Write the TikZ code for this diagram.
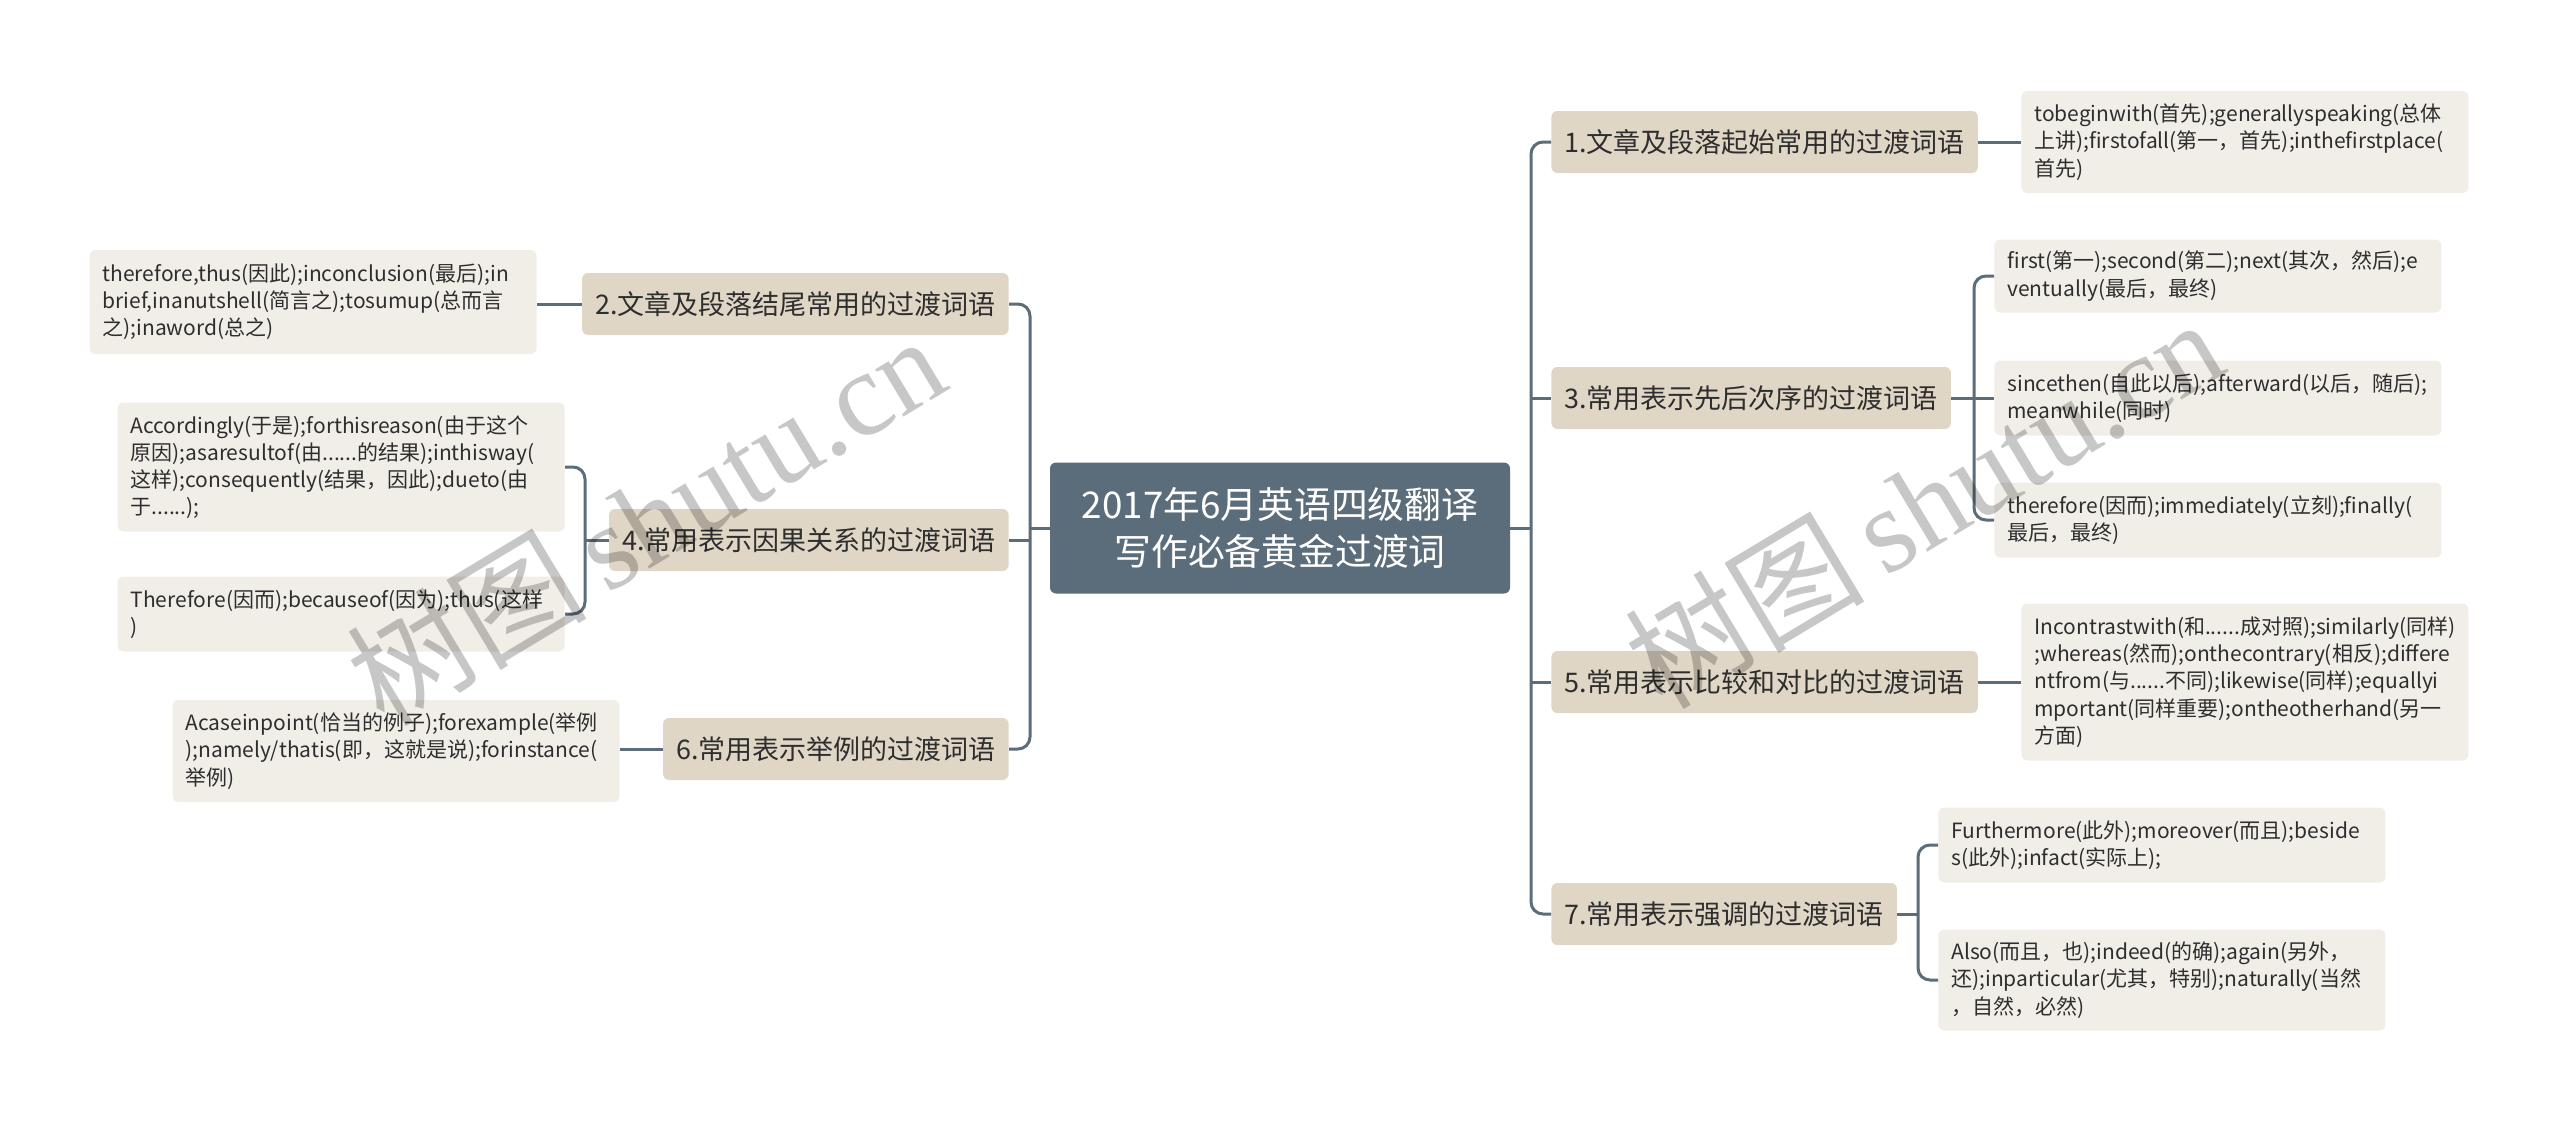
\documentclass[tikz,border=0pt]{standalone}
\usepackage{fontspec}
\setmainfont{Noto Sans CJK SC}
\newfontfamily\wmserif{Liberation Serif}
\newfontfamily\wmcjk{Noto Sans CJK SC}
\definecolor{rootfill}{HTML}{5B6D7A}
\definecolor{lvfill}{HTML}{E0D6C6}
\definecolor{leaffill}{HTML}{F1EEE7}
\definecolor{conncol}{HTML}{5B6D7A}
\definecolor{txt}{HTML}{2E2E2E}
\begin{document}
\begin{tikzpicture}[x=0.5pt,y=-0.5pt,
  root/.style={fill=rootfill, rounded corners=3pt, text=white,
    font=\fontsize{18.4}{23.5}\selectfont, align=center,
    minimum width=230pt, minimum height=65.5pt, inner sep=0pt},
  lvl/.style={fill=lvfill, rounded corners=3pt, text=txt,
    font=\fontsize{13.5}{16}\selectfont, minimum height=31pt,
    inner xsep=6.5pt, inner ysep=0pt},
  leaf/.style={fill=leaffill, rounded corners=3pt, text=txt,
    font=\fontsize{10.5}{13.6}\selectfont, align=left,
    text width=210.5pt, inner xsep=6.5pt, inner ysep=0pt},
  conn/.style={draw=conncol, line width=1.5pt},
  curvedconn/.style={conn, rounded corners=6pt},
  wm/.style={text=black, text opacity=0.22, inner sep=0pt}]
\useasboundingbox (0,0) rectangle (2560,1124);

% root
\node[root] (root) at (1280,528) {2017年6月英语四级翻译\\写作必备黄金过渡词};

% level 1 right
\node[lvl, anchor=west] (n1) at (1551,142) {1.文章及段落起始常用的过渡词语};
\node[lvl, anchor=west] (n3) at (1551,398) {3.常用表示先后次序的过渡词语};
\node[lvl, anchor=west] (n5) at (1551,682) {5.常用表示比较和对比的过渡词语};
\node[lvl, anchor=west] (n7) at (1551,914) {7.常用表示强调的过渡词语};
% level 1 left
\node[lvl, anchor=east] (n2) at (1009,304) {2.文章及段落结尾常用的过渡词语};
\node[lvl, anchor=east] (n4) at (1009,540) {4.常用表示因果关系的过渡词语};
\node[lvl, anchor=east] (n6) at (1009,749) {6.常用表示举例的过渡词语};

% leaves right
\node[leaf, anchor=west, minimum height=51pt] (l1) at (2021,142)
  {tobeginwith(首先);generallyspeaking(总体\\上讲);firstofall(第一，首先);inthefirstplace(\\首先)};
\node[leaf, anchor=west, minimum height=36.5pt] (l3a) at (1994,276)
  {first(第一);second(第二);next(其次，然后);e\\ventually(最后，最终)};
\node[leaf, anchor=west, minimum height=37.5pt] (l3b) at (1994,398)
  {sincethen(自此以后);afterward(以后，随后);\\meanwhile(同时)};
\node[leaf, anchor=west, minimum height=37.5pt] (l3c) at (1994,520)
  {therefore(因而);immediately(立刻);finally(\\最后，最终)};
\node[leaf, anchor=west, minimum height=78.5pt] (l5) at (2021,682)
  {Incontrastwith(和......成对照);similarly(同样)\\;whereas(然而);onthecontrary(相反);differe\\ntfrom(与......不同);likewise(同样);equallyi\\mportant(同样重要);ontheotherhand(另一\\方面)};
\node[leaf, anchor=west, minimum height=37.5pt] (l7a) at (1938,845)
  {Furthermore(此外);moreover(而且);beside\\s(此外);infact(实际上);};
\node[leaf, anchor=west, minimum height=50.5pt] (l7b) at (1938,980)
  {Also(而且，也);indeed(的确);again(另外，\\还);inparticular(尤其，特别);naturally(当然\\，自然，必然)};
% leaves left
\node[leaf, anchor=east, minimum height=52pt] (l2) at (537,302)
  {therefore,thus(因此);inconclusion(最后);in\\brief,inanutshell(简言之);tosumup(总而言\\之);inaword(总之)};
\node[leaf, anchor=east, minimum height=64.5pt] (l4a) at (565,467)
  {Accordingly(于是);forthisreason(由于这个\\原因);asaresultof(由......的结果);inthisway(\\这样);consequently(结果，因此);dueto(由\\于......);};
\node[leaf, anchor=east, minimum height=37.5pt] (l4b) at (565,614)
  {Therefore(因而);becauseof(因为);thus(这样\\)};
\node[leaf, anchor=east, minimum height=51pt] (l6) at (620,751)
  {Acaseinpoint(恰当的例子);forexample(举例\\);namely/thatis(即，这就是说);forinstance(\\举例)};

% trunk coordinates
\coordinate (rt) at (1531,528);
\coordinate (lt) at (1030,528);
\coordinate (t3) at (1974,398);
\coordinate (t7) at (1918,914);
\coordinate (t4) at (585,540);

% root to right
\draw[conn] (root.east) -- (rt);
\draw[curvedconn] (n1.west) -| (rt);
\draw[curvedconn] (n7.west) -| (rt);
\draw[conn] (n3.west) -- (n3.west -| rt);
\draw[conn] (n5.west) -- (n5.west -| rt);
% root to left
\draw[conn] (root.west) -- (lt);
\draw[curvedconn] (n2.east) -| (lt);
\draw[curvedconn] (n6.east) -| (lt);
\draw[conn] (n4.east) -- (n4.east -| lt);

% level 1 to leaves
\draw[conn] (n1.east) -- (l1.west);
\draw[conn] (n5.east) -- (l5.west);
\draw[conn] (n3.east) -- (t3);
\draw[curvedconn] (l3a.west) -| (t3);
\draw[curvedconn] (l3c.west) -| (t3);
\draw[conn] (l3b.west) -- (l3b.west -| t3);
\draw[conn] (n7.east) -- (t7);
\draw[curvedconn] (l7a.west) -| (t7);
\draw[curvedconn] (l7b.west) -| (t7);
\draw[conn] (n2.west) -- (n2.west -| l2.east);
\draw[conn] (n6.west) -- (n6.west -| l6.east);
\draw[conn] (n4.west) -- (t4);
\draw[curvedconn] (l4a.east) -| (t4);
\draw[curvedconn] (l4b.east) -| (t4);

% watermarks
\node[wm, rotate=31] (wm1) at (645,519) {\fontsize{60}{60}\selectfont\wmcjk 树图\,\wmserif shutu.cn};
\node[wm, rotate=31] (wm2) at (1923,502) {\fontsize{60}{60}\selectfont\wmcjk 树图\,\wmserif shutu.cn};
\end{tikzpicture}
\end{document}
